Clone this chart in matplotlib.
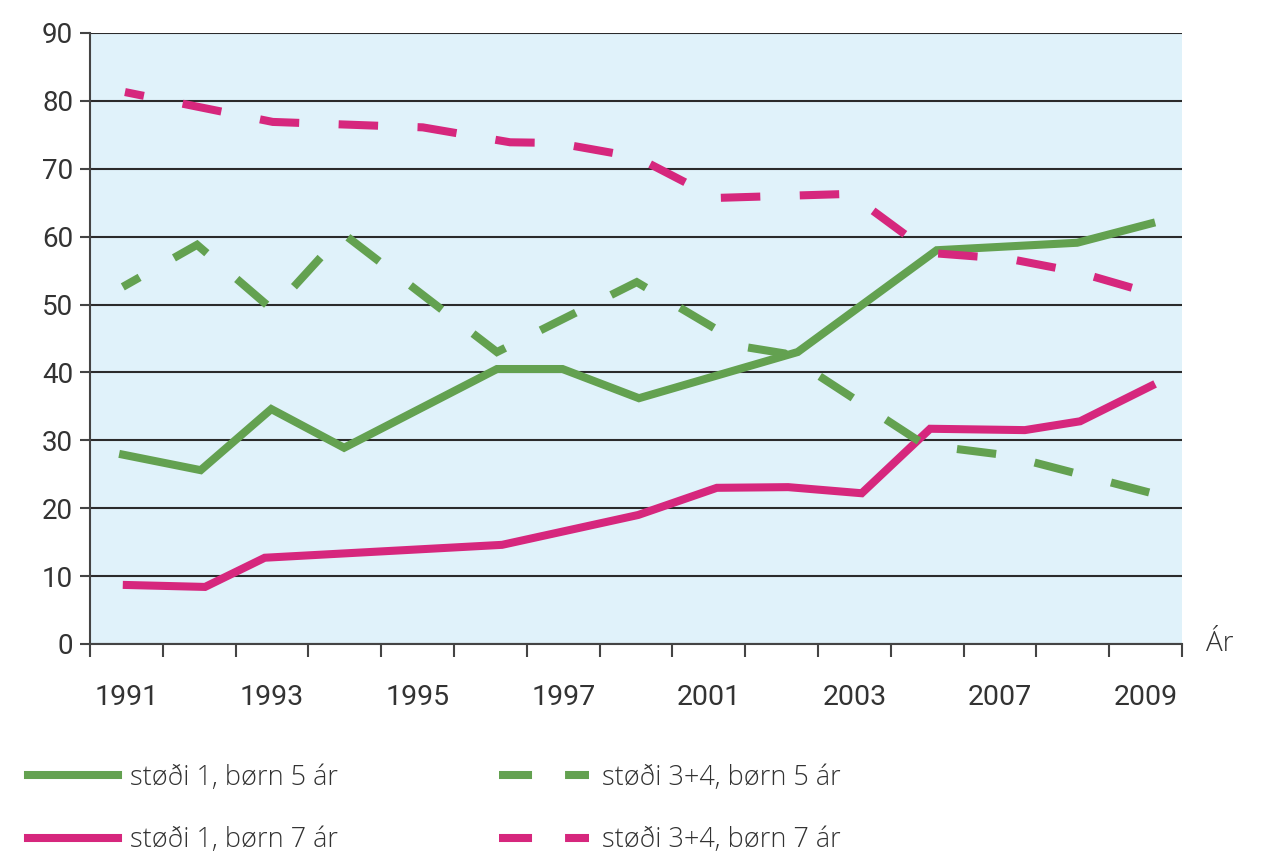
import matplotlib.pyplot as plt
import numpy as np
from matplotlib.lines import Line2D

# x positions are on the category scale (0 = 1991 ... 14 = 2009), 15 slots
tick_labels = ['1991', '1993', '1995', '1997', '2001', '2003', '2007', '2009']
tick_slots = [0, 2, 4, 6, 8, 10, 12, 14]

x_g1 = [-0.1, 1.02, 1.99, 2.99, 5.09, 5.99, 7.04, 9.22, 11.13, 13.06, 14.13]
y_g1 = [28.0, 25.6, 34.6, 28.9, 40.5, 40.5, 36.2, 43.0, 58.0, 59.1, 62.1]

x_r1 = [-0.05, 1.08, 1.90, 5.16, 7.03, 8.11, 9.09, 10.10, 11.04, 12.34, 13.10, 14.13]
y_r1 = [8.7, 8.4, 12.7, 14.6, 19.0, 23.0, 23.1, 22.2, 31.7, 31.5, 32.8, 38.3]

x_g34 = [-0.05, 0.97, 2.01, 2.97, 5.09, 7.01, 8.52, 9.04, 10.97, 12.09, 14.09]
y_g34 = [52.6, 58.8, 49.2, 60.5, 43.0, 53.3, 43.7, 42.8, 29.3, 27.8, 22.2]

x_r34 = [-0.02, 2.01, 4.07, 5.27, 5.91, 7.01, 8.09, 9.94, 11.04, 12.14, 13.06, 14.06]
y_r34 = [81.3, 76.9, 76.1, 73.9, 73.8, 71.7, 65.7, 66.3, 57.6, 56.7, 54.8, 51.7]

labels = ['støði 1, børn 5 ár', 'støði 1, børn 7 ár',
          'støði 3+4, børn 5 ár', 'støði 3+4, børn 7 ár']

green = '#63a150'
pink = '#d6277d'
txt = '#333333'

fig = plt.figure(figsize=(12.68, 8.57), dpi=100)
ax = fig.add_axes([0.0710, 0.2486, 0.8612, 0.7129])
ax.set_facecolor('#e0f2fa')

lw = 5.8
ax.plot(x_g1, y_g1, color=green, lw=lw, solid_joinstyle='miter', solid_capstyle='butt', zorder=3)
ax.plot(x_r1, y_r1, color=pink, lw=lw, solid_joinstyle='miter', solid_capstyle='butt', zorder=3)
ax.plot(x_g34, y_g34, color=green, lw=lw, ls=(2.5, (4.9, 4.9)),
        dash_joinstyle='miter', dash_capstyle='butt', zorder=3)
ax.plot(x_r34, y_r34, color=pink, lw=lw, ls=(2.5, (4.9, 4.9)),
        dash_joinstyle='miter', dash_capstyle='butt', zorder=3)

ax.set_xlim(-0.5, 14.5)
ax.set_ylim(0, 90)
ax.set_yticks(np.arange(0, 91, 10))
ax.yaxis.grid(True, color='#2b2b2b', lw=1.5)
ax.set_axisbelow(True)

ax.set_xticks(np.arange(-0.5, 14.6, 1))
ax.set_xticklabels([])
ax.set_xticks(tick_slots, minor=True)
ax.set_xticklabels(tick_labels, minor=True)

for s in ['top', 'right']:
    ax.spines[s].set_visible(False)
for s in ['left', 'bottom']:
    ax.spines[s].set_color('#444444')
    ax.spines[s].set_linewidth(1.5)

ax.tick_params(axis='y', length=7, width=1.5, color='#444444', pad=5,
               labelsize=20, labelcolor=txt)
ax.tick_params(axis='x', which='major', length=9.5, width=1.5, color='#444444')
ax.tick_params(axis='x', which='minor', length=0, pad=29, labelsize=20.5, labelcolor=txt)
for lab in ax.get_xticklabels(minor=True) + ax.get_yticklabels():
    lab.set_family('Roboto')

ax.text(1.022, 0.0, 'Ár', transform=ax.transAxes, fontsize=20, color=txt,
        family='Open Sans', fontweight='light', va='center', ha='left')

handles = [Line2D([], [], color=green, lw=lw),
           Line2D([], [], color=pink, lw=lw),
           Line2D([], [], color=green, lw=lw, ls=(0, (4.1, 4.1)), dash_capstyle='butt'),
           Line2D([], [], color=pink, lw=lw, ls=(0, (4.1, 4.1)), dash_capstyle='butt')]
leg = fig.legend(handles, labels, ncol=2, loc='upper left', bbox_to_anchor=(0.003, 0.137),
                 frameon=False, handlelength=3.3, handletextpad=0.47, columnspacing=5.95,
                 labelspacing=1.27, prop={'family': 'Open Sans', 'weight': 'light', 'size': 19.5})
for t in leg.get_texts():
    t.set_color(txt)

fig.savefig('out.png', dpi=100)
